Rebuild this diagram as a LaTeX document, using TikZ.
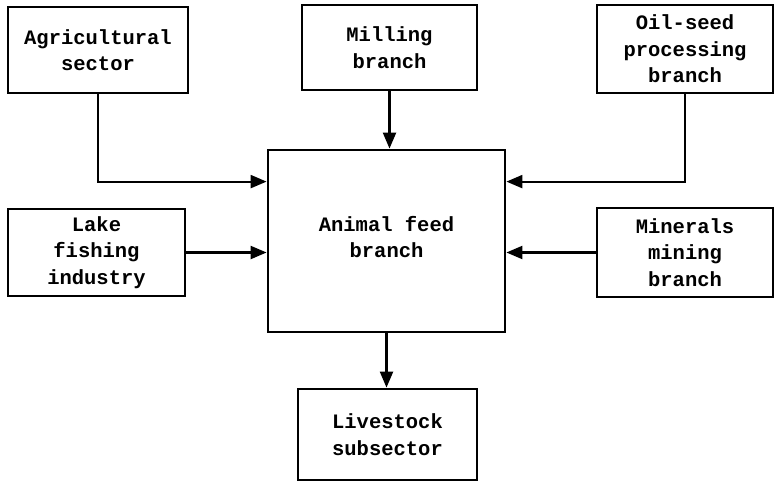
\documentclass[tikz,border=0pt]{standalone}
\usepackage{fontspec}
\setmainfont{Liberation Mono}
\usetikzlibrary{arrows.meta,calc}
\begin{document}
\begin{tikzpicture}[x=1pt,y=-1pt,
  block/.style={draw,line width=2.8pt,align=center,inner sep=0pt,
    font=\fontsize{20.5}{26.5}\selectfont\bfseries},
  flow/.style={line width=2.2pt,-{Triangle[length=16pt,width=13pt]}}]
\useasboundingbox (0,0) rectangle (775,481);

\node[block,minimum width=180pt,minimum height=86pt] (agri) at (98,50) {Agricultural\\sector};
\node[block,minimum width=175pt,minimum height=85pt] (mill) at (389.5,47.5) {Milling\\branch};
\node[block,minimum width=176pt,minimum height=88pt] (oil) at (685,49) {Oil-seed\\processing\\branch};
\node[block,minimum width=177pt,minimum height=87pt] (lake) at (96.5,252.5) {Lake\\fishing\\industry};
\node[block,minimum width=176pt,minimum height=89pt] (mine) at (685,252.5) {Minerals\\mining\\branch};
\node[block,minimum width=237pt,minimum height=182pt,text depth=8pt] (feed) at (386.5,241) {Animal feed\\branch};
\node[block,minimum width=179pt,minimum height=91pt] (live) at (387.5,434.5) {Livestock\\subsector};

\draw[flow] (agri.south) |- ([yshift=-33pt]feed.north west);
\draw[flow] (oil.south) |- ([yshift=-33pt]feed.north east);
\draw[flow] (mill.south) -- (mill.south |- feed.north);
\draw[flow] (lake.east) -- (lake.east -| feed.west);
\draw[flow] (mine.west) -- (mine.west -| feed.east);
\draw[flow] (feed.south) -- (feed.south |- live.north);
\end{tikzpicture}
\end{document}
